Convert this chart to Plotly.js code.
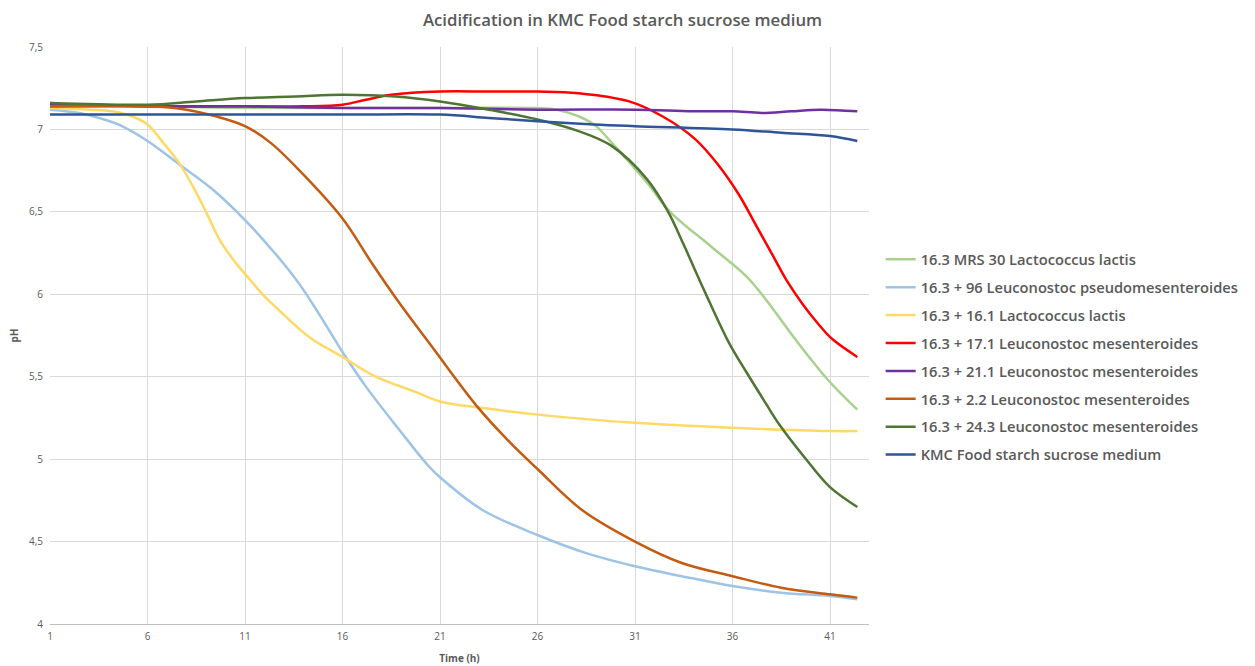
<!DOCTYPE html>
<html>
<head>
<meta charset="utf-8">
<script src="https://cdn.plot.ly/plotly-3.0.1.min.js"></script>
<style>html,body{margin:0;padding:0;background:#fff;}#chart{width:1255px;height:666px;}</style>
</head>
<body>
<div id="chart"></div>
<script>
// Series names (legend order)
const seriesNames = [
  '16.3 MRS 30 Lactococcus lactis',
  '16.3 + 96 Leuconostoc pseudomesenteroides',
  '16.3 + 16.1 Lactococcus lactis',
  '16.3 + 17.1 Leuconostoc mesenteroides',
  '16.3 + 21.1 Leuconostoc mesenteroides',
  '16.3 + 2.2 Leuconostoc mesenteroides',
  '16.3 + 24.3 Leuconostoc mesenteroides',
  'KMC Food starch sucrose medium'
];
const seriesColors = ['#A9D18E','#9DC3E6','#FFD966','#FF0000','#7030A0','#C55A11','#4E7533','#2F5597'];

// Time (h) and pH for each series
const tMRS30 = [1, 3, 6, 11, 16, 21, 26, 27, 28.1, 29.0, 29.8, 31.6, 32.8, 34.9, 36.7, 37.7, 39.2, 40.9, 42.4];
const phMRS30 = [7.16, 7.15, 7.14, 7.13, 7.13, 7.13, 7.13, 7.12, 7.08, 7.02, 6.92, 6.68, 6.50, 6.29, 6.11, 5.97, 5.73, 5.48, 5.30];

const t96 = [1, 2.5, 3.5, 4.5, 6, 7.6, 9.3, 11, 12.6, 13.8, 14.8, 16, 17.2, 18.9, 20.4, 21, 23.2, 26, 28.5, 31, 33.4, 36, 38.5, 41, 42.4];
const ph96 = [7.12, 7.10, 7.07, 7.03, 6.93, 6.79, 6.64, 6.45, 6.24, 6.06, 5.88, 5.65, 5.44, 5.18, 4.96, 4.89, 4.69, 4.54, 4.43, 4.35, 4.29, 4.23, 4.19, 4.17, 4.15];

const t161 = [1, 3, 4.2, 5.2, 6.0, 6.8, 7.6, 8.3, 9.0, 9.7, 10.4, 11.1, 11.9, 12.6, 14.3, 16, 17.7, 19.7, 21, 23.2, 26, 31, 36, 41, 42.4];
const ph161 = [7.13, 7.12, 7.11, 7.08, 7.03, 6.92, 6.80, 6.66, 6.50, 6.33, 6.21, 6.11, 6.00, 5.92, 5.74, 5.62, 5.50, 5.41, 5.35, 5.31, 5.27, 5.22, 5.19, 5.17, 5.17];

const t171 = [1, 6, 11, 14, 16, 17.2, 18.5, 21, 23.5, 26, 28.1, 30.7, 32.4, 34.1, 35.3, 36.3, 37.2, 38.0, 38.8, 39.6, 40.4, 41.1, 42.4];
const ph171 = [7.14, 7.14, 7.14, 7.14, 7.15, 7.18, 7.21, 7.23, 7.23, 7.23, 7.22, 7.17, 7.08, 6.94, 6.78, 6.61, 6.42, 6.25, 6.08, 5.94, 5.82, 5.73, 5.62];

const t211 = [1, 3, 6, 11, 16, 21, 26, 31, 34, 36, 37.5, 39, 40.5, 42.4];
const ph211 = [7.15, 7.15, 7.14, 7.14, 7.13, 7.13, 7.12, 7.12, 7.11, 7.11, 7.10, 7.11, 7.12, 7.11];

const t22 = [1, 6, 8, 9.5, 11, 12.3, 13.8, 16, 17.5, 18.9, 20.6, 22.9, 24.6, 26, 28.3, 31, 33.4, 36, 38.5, 41, 42.4];
const ph22 = [7.14, 7.14, 7.12, 7.08, 7.02, 6.92, 6.75, 6.46, 6.19, 5.95, 5.68, 5.32, 5.10, 4.94, 4.69, 4.50, 4.37, 4.29, 4.22, 4.18, 4.16];

const t243 = [1, 6, 8.5, 11, 13.6, 16, 18.7, 21, 23.5, 26, 28.1, 29.8, 31.6, 32.7, 33.5, 34.6, 35.8, 36.7, 37.7, 38.4, 39.7, 41.0, 42.4];
const ph243 = [7.16, 7.15, 7.17, 7.19, 7.20, 7.21, 7.20, 7.17, 7.12, 7.06, 6.99, 6.90, 6.70, 6.50, 6.30, 6.01, 5.71, 5.53, 5.34, 5.21, 5.01, 4.83, 4.71];

const tKMC = [1, 6, 11, 16, 21, 23.5, 26, 28.9, 31, 36, 38.5, 41, 42.4];
const phKMC = [7.09, 7.09, 7.09, 7.09, 7.09, 7.07, 7.05, 7.03, 7.02, 7.00, 6.98, 6.96, 6.93];

const xTicks = [1, 6, 11, 16, 21, 26, 31, 36, 41];
const yTicks = [4, 4.5, 5, 5.5, 6, 6.5, 7, 7.5];

const allT = [tMRS30, t96, t161, t171, t211, t22, t243, tKMC];
const allPH = [phMRS30, ph96, ph161, ph171, ph211, ph22, ph243, phKMC];

const traces = seriesNames.map((name, i) => ({
  type: 'scatter',
  mode: 'lines',
  name: name,
  legendgroup: 'g' + i,
  x: allT[i],
  y: allPH[i],
  line: {color: seriesColors[i], width: 2.5, shape: 'spline', smoothing: 1.0},
  hoverinfo: 'skip'
}));

const fontFam = 'Open Sans, Liberation Sans, sans-serif';
const layout = {
  width: 1255,
  height: 666,
  margin: {l: 50, r: 385, t: 47, b: 42},
  paper_bgcolor: '#ffffff',
  plot_bgcolor: '#ffffff',
  separators: ',.',
  font: {family: fontFam, color: '#595959'},
  title: {
    text: 'Acidification in KMC Food starch sucrose medium',
    font: {family: fontFam, size: 16.8, color: '#595959', weight: 600},
    xref: 'container', x: 0.496, xanchor: 'center',
    yref: 'container', y: 0.97, yanchor: 'middle'
  },
  xaxis: {
    range: [1, 43],
    tickmode: 'array',
    tickvals: xTicks,
    ticktext: xTicks.map(String),
    showgrid: true,
    gridcolor: '#d9d9d9',
    gridwidth: 1,
    zeroline: false,
    showline: true,
    linecolor: '#bfbfbf',
    linewidth: 1,
    ticks: '',
    ticklabelstandoff: 3,
    tickfont: {family: fontFam, size: 10, color: '#595959'},
    title: {text: 'Time (h)', font: {family: fontFam, size: 10, color: '#595959', weight: 'bold'}, standoff: 12}
  },
  yaxis: {
    range: [4, 7.5],
    tickmode: 'array',
    tickvals: yTicks,
    showgrid: true,
    gridcolor: '#d9d9d9',
    gridwidth: 1,
    zeroline: false,
    showline: false,
    ticks: '',
    ticklabelstandoff: 6,
    tickfont: {family: fontFam, size: 10, color: '#595959'},
    title: {text: 'pH', font: {family: fontFam, size: 10, color: '#595959', weight: 'bold'}, standoff: 8}
  },
  legend: {
    x: 1.013, xanchor: 'left',
    y: 0.66, yanchor: 'top',
    font: {family: fontFam, size: 14.7, color: '#595959', weight: 600},
    bgcolor: 'rgba(0,0,0,0)',
    tracegroupgap: 5.8,
    itemwidth: 30
  },
  showlegend: true
};

Plotly.newPlot('chart', traces, layout, {displayModeBar: false, staticPlot: true});
</script>
</body>
</html>
